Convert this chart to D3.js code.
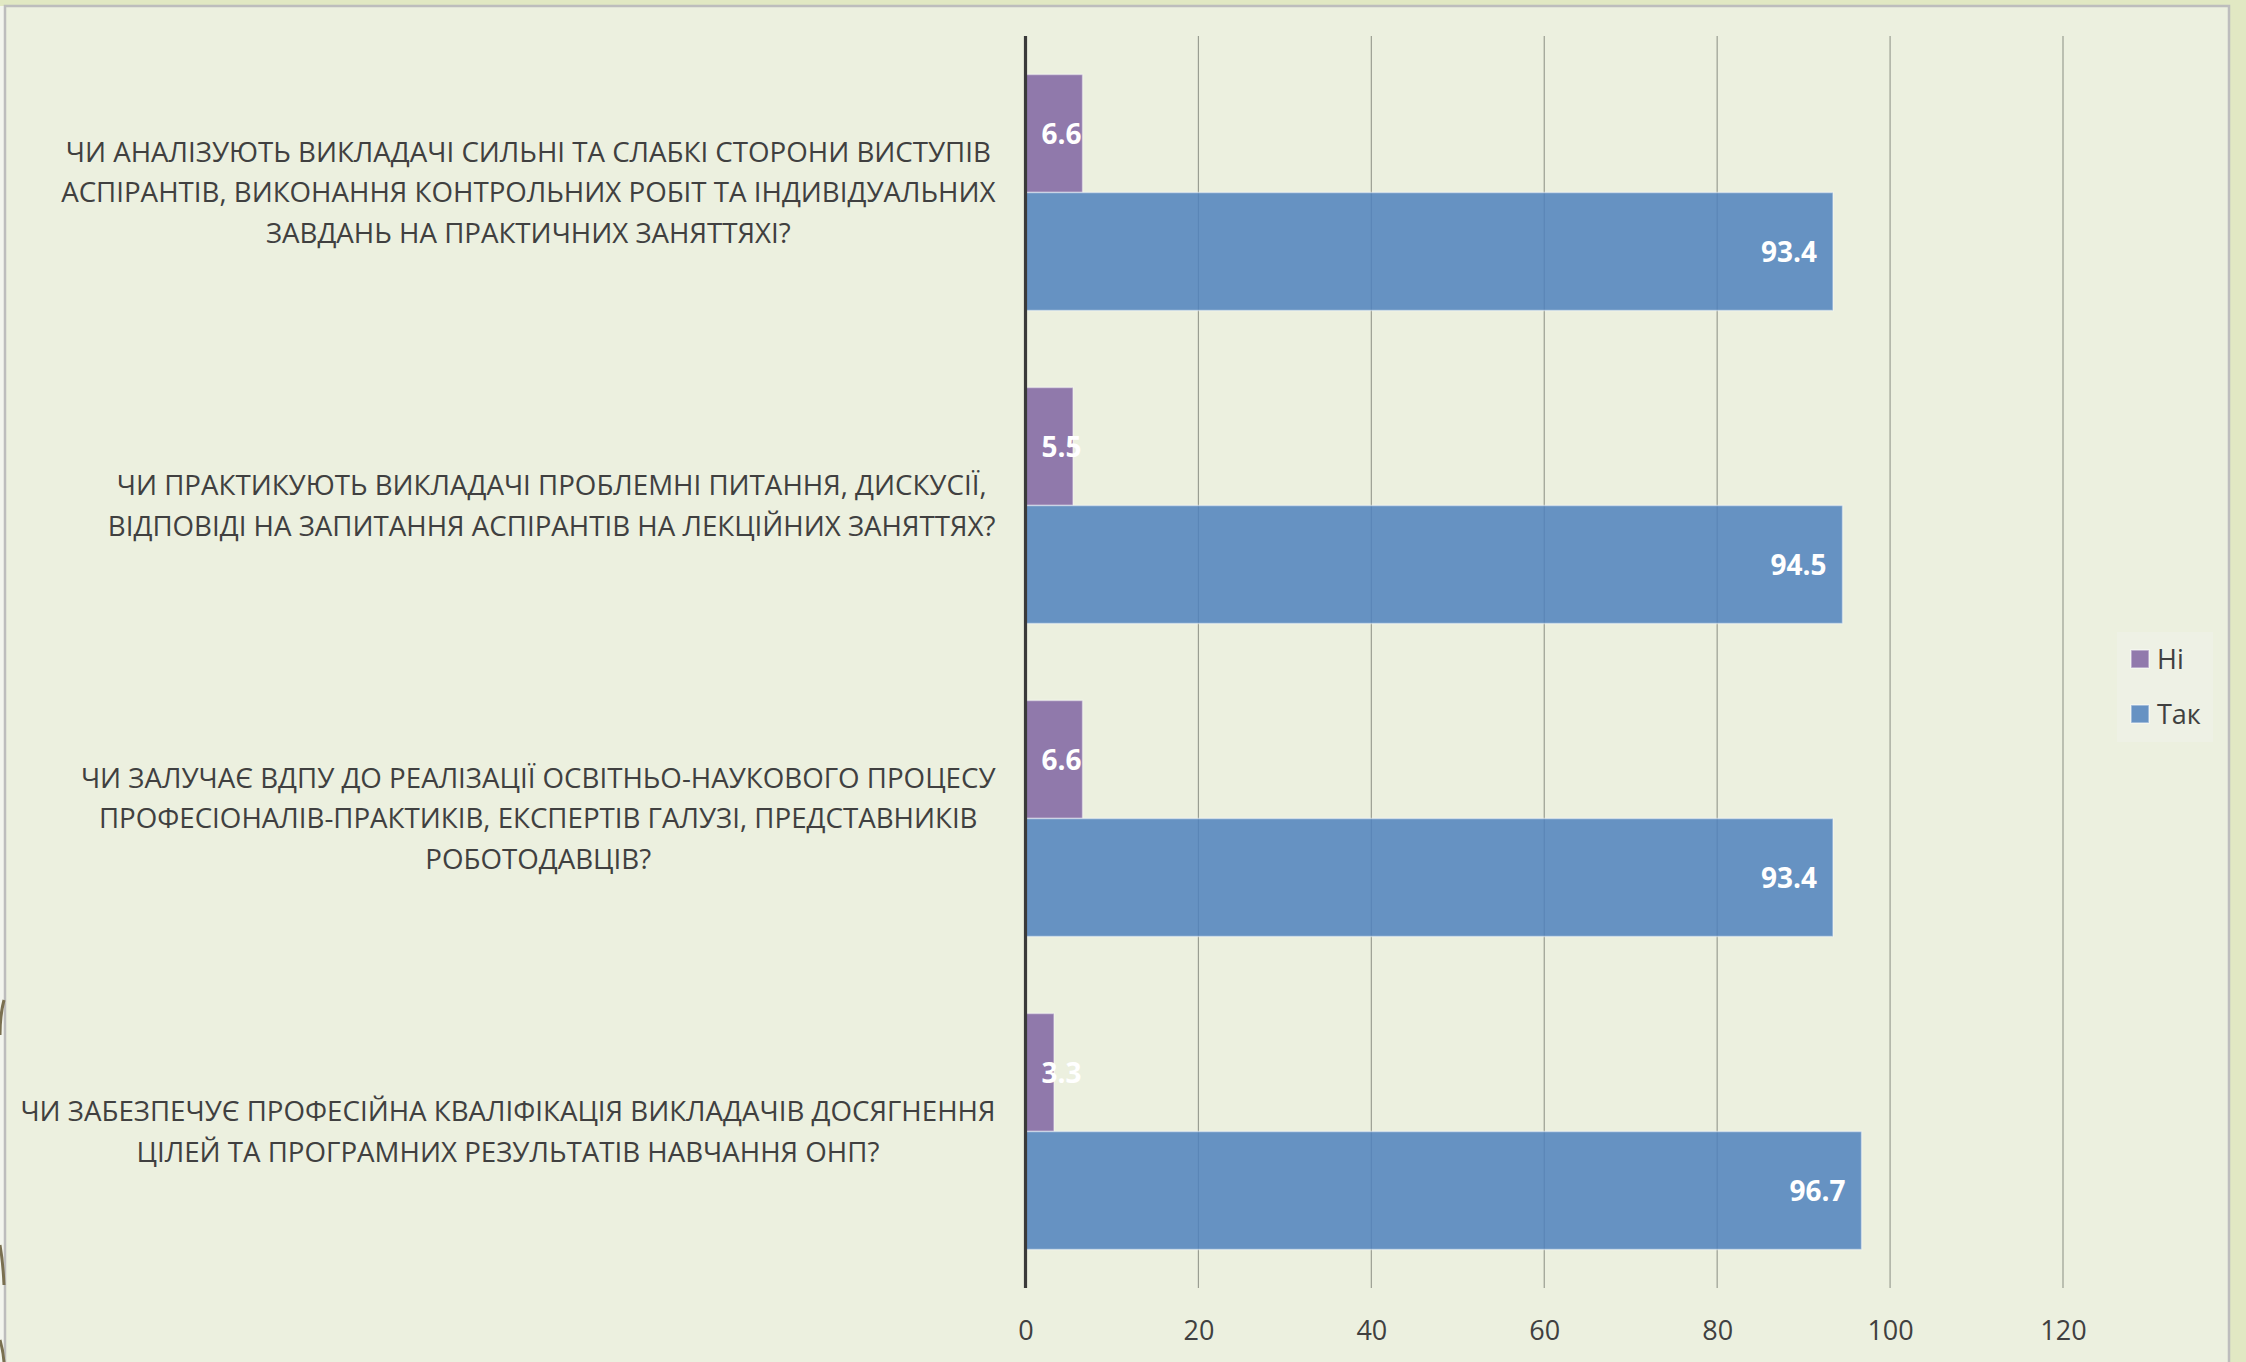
<!DOCTYPE html>
<html>
<head>
<meta charset="utf-8">
<script src="https://cdn.jsdelivr.net/npm/d3@7"></script>
<style>
  html, body { margin: 0; padding: 0; background: #e1e8c3; }
  svg { display: block; }
</style>
</head>
<body>
<svg id="chart" width="2246" height="1362"></svg>
<script>
// ---- data ----
const categories = [
  "ЧИ АНАЛІЗУЮТЬ ВИКЛАДАЧІ СИЛЬНІ ТА СЛАБКІ СТОРОНИ ВИСТУПІВ\nАСПІРАНТІВ, ВИКОНАННЯ КОНТРОЛЬНИХ РОБІТ ТА ІНДИВІДУАЛЬНИХ\nЗАВДАНЬ НА ПРАКТИЧНИХ ЗАНЯТТЯХІ?",
  "ЧИ ПРАКТИКУЮТЬ ВИКЛАДАЧІ ПРОБЛЕМНІ ПИТАННЯ, ДИСКУСІЇ,\nВІДПОВІДІ НА ЗАПИТАННЯ АСПІРАНТІВ НА ЛЕКЦІЙНИХ ЗАНЯТТЯХ?",
  "ЧИ ЗАЛУЧАЄ ВДПУ ДО РЕАЛІЗАЦІЇ ОСВІТНЬО-НАУКОВОГО ПРОЦЕСУ\nПРОФЕСІОНАЛІВ-ПРАКТИКІВ, ЕКСПЕРТІВ ГАЛУЗІ, ПРЕДСТАВНИКІВ\nРОБОТОДАВЦІВ?",
  "ЧИ ЗАБЕЗПЕЧУЄ ПРОФЕСІЙНА КВАЛІФІКАЦІЯ ВИКЛАДАЧІВ ДОСЯГНЕННЯ\nЦІЛЕЙ ТА ПРОГРАМНИХ РЕЗУЛЬТАТІВ НАВЧАННЯ ОНП?"
];
const seriesNames = ["Ні", "Так"];
const valuesNi  = [6.6, 5.5, 6.6, 3.3];
const valuesTak = [93.4, 94.5, 93.4, 96.7];
const xTicks = [0, 20, 40, 60, 80, 100, 120];
const seriesColors = ["#8064a2", "#4f81bd"];

// ---- layout ----
const svg = d3.select("#chart");
const W = 2246, H = 1362;
const plot = { left: 1025.5, right: 2063, top: 36, bottom: 1288 };
const textColor = "#404040";
const fontFamily = "'Open Sans', 'Noto Sans', sans-serif";

// chart area background + border
svg.append("rect").attr("x", 0).attr("y", 0).attr("width", W).attr("height", H).attr("fill", "#e1e8c3");
svg.append("rect").attr("x", 0).attr("y", 6).attr("width", 5).attr("height", H).attr("fill", "#f3f5ee");
svg.append("rect").attr("x", 5).attr("y", 6).attr("width", 2224).attr("height", H)
  .attr("fill", "#ecf0df").attr("stroke", "#bdbdbd").attr("stroke-width", 2.5);

// left-edge decoration fragments
const deco = svg.append("g").attr("fill", "none").attr("stroke", "#7a7050").attr("stroke-width", 3);
deco.append("path").attr("d", "M 4 1000 Q 0 1015 0 1035");
deco.append("path").attr("d", "M 0 1245 Q 3 1262 4 1285");
deco.append("path").attr("d", "M 0 1340 Q 3 1350 4 1362");

const x = d3.scaleLinear().domain([0, 120]).range([plot.left, plot.right]);
const y0 = d3.scaleBand().domain(d3.range(categories.length)).range([plot.top, plot.bottom]).paddingInner(0).paddingOuter(0);
const y1 = d3.scaleBand().domain(seriesNames).range([0, y0.bandwidth()]).paddingInner(0).paddingOuter(0.326);

// gridlines
svg.append("g")
  .selectAll("line").data(xTicks.filter(d => d > 0)).join("line")
  .attr("x1", d => x(d)).attr("x2", d => x(d))
  .attr("y1", plot.top).attr("y2", plot.bottom)
  .attr("stroke", "#9a9e92").attr("stroke-width", 1.2);

// bars
const groups = svg.append("g").selectAll("g").data(categories).join("g")
  .attr("transform", (d, i) => `translate(0,${y0(i)})`);

const barData = (i) => [
  { s: seriesNames[0], v: valuesNi[i], c: seriesColors[0] },
  { s: seriesNames[1], v: valuesTak[i], c: seriesColors[1] }
];

groups.each(function(d, i) {
  const g = d3.select(this);
  const bd = barData(i);
  g.selectAll("rect").data(bd).join("rect")
    .attr("x", x(0))
    .attr("y", b => y1(b.s))
    .attr("width", b => x(b.v) - x(0))
    .attr("height", y1.bandwidth())
    .attr("fill", b => b.c)
    .attr("fill-opacity", 0.85)
    .attr("stroke", "rgba(255,255,255,0.45)")
    .attr("stroke-width", 1.5);

  // value labels
  g.selectAll("text.val").data(bd).join("text")
    .attr("class", "val")
    .attr("y", b => y1(b.s) + y1.bandwidth() / 2)
    .attr("dy", "0.36em")
    .attr("fill", "#ffffff")
    .attr("font-family", fontFamily)
    .attr("font-weight", "bold")
    .attr("font-size", 28)
    .text(b => b.v.toFixed(1))
    .each(function(b) {
      const t = d3.select(this);
      const w = this.getComputedTextLength();
      const endX = x(b.v) - 16;
      let sx = endX - w;
      if (sx < x(0) + 16) sx = x(0) + 16;
      t.attr("x", sx);
    });
});

// axis line (vertical at 0)
svg.append("line")
  .attr("x1", x(0)).attr("x2", x(0))
  .attr("y1", plot.top).attr("y2", plot.bottom)
  .attr("stroke", "#3a3a3a").attr("stroke-width", 3.2);

// x tick labels
const xAxis = d3.axisBottom(x).tickValues(xTicks).tickSize(0).tickPadding(0).tickFormat(d3.format("d"));
const xa = svg.append("g").attr("transform", `translate(0,${plot.bottom})`).call(xAxis);
xa.select(".domain").remove();
xa.selectAll("text")
  .attr("y", 42).attr("dy", "0.36em")
  .attr("fill", textColor)
  .attr("font-family", fontFamily)
  .attr("font-size", 27);

// category labels: lines centered within block, block right-aligned near axis
const labelRight = 995.5;
const lineH = 40.8;
const catG = svg.append("g");
categories.forEach((cat, i) => {
  const lines = cat.split("\n");
  const g = catG.append("g");
  const cy = y0(i) + y0.bandwidth() / 2;
  const texts = lines.map((ln, k) => g.append("text")
    .attr("y", cy + (k - (lines.length - 1) / 2) * lineH)
    .attr("dy", "0.36em")
    .attr("fill", textColor)
    .attr("font-family", fontFamily)
    .attr("font-size", 27.7)
    .attr("text-anchor", "middle")
    .text(ln));
  const widths = texts.map(t => t.node().getComputedTextLength());
  const bw = d3.max(widths);
  texts.forEach(t => t.attr("x", labelRight - bw / 2));
});

// legend
const leg = svg.append("g");
leg.append("rect").attr("x", 2117).attr("y", 632).attr("width", 96).attr("height", 110).attr("fill", "#eef1e5");
seriesNames.forEach((s, k) => {
  const cy = 659 + k * 55;
  leg.append("rect").attr("x", 2131).attr("y", cy - 9).attr("width", 18).attr("height", 18)
    .attr("fill", seriesColors[k]).attr("fill-opacity", 0.85)
    .attr("stroke", "rgba(255,255,255,0.5)").attr("stroke-width", 1.5);
  leg.append("text").attr("x", 2157).attr("y", cy).attr("dy", "0.36em")
    .attr("fill", textColor).attr("font-family", fontFamily).attr("font-size", 27)
    .text(s);
});
</script>
</body>
</html>
